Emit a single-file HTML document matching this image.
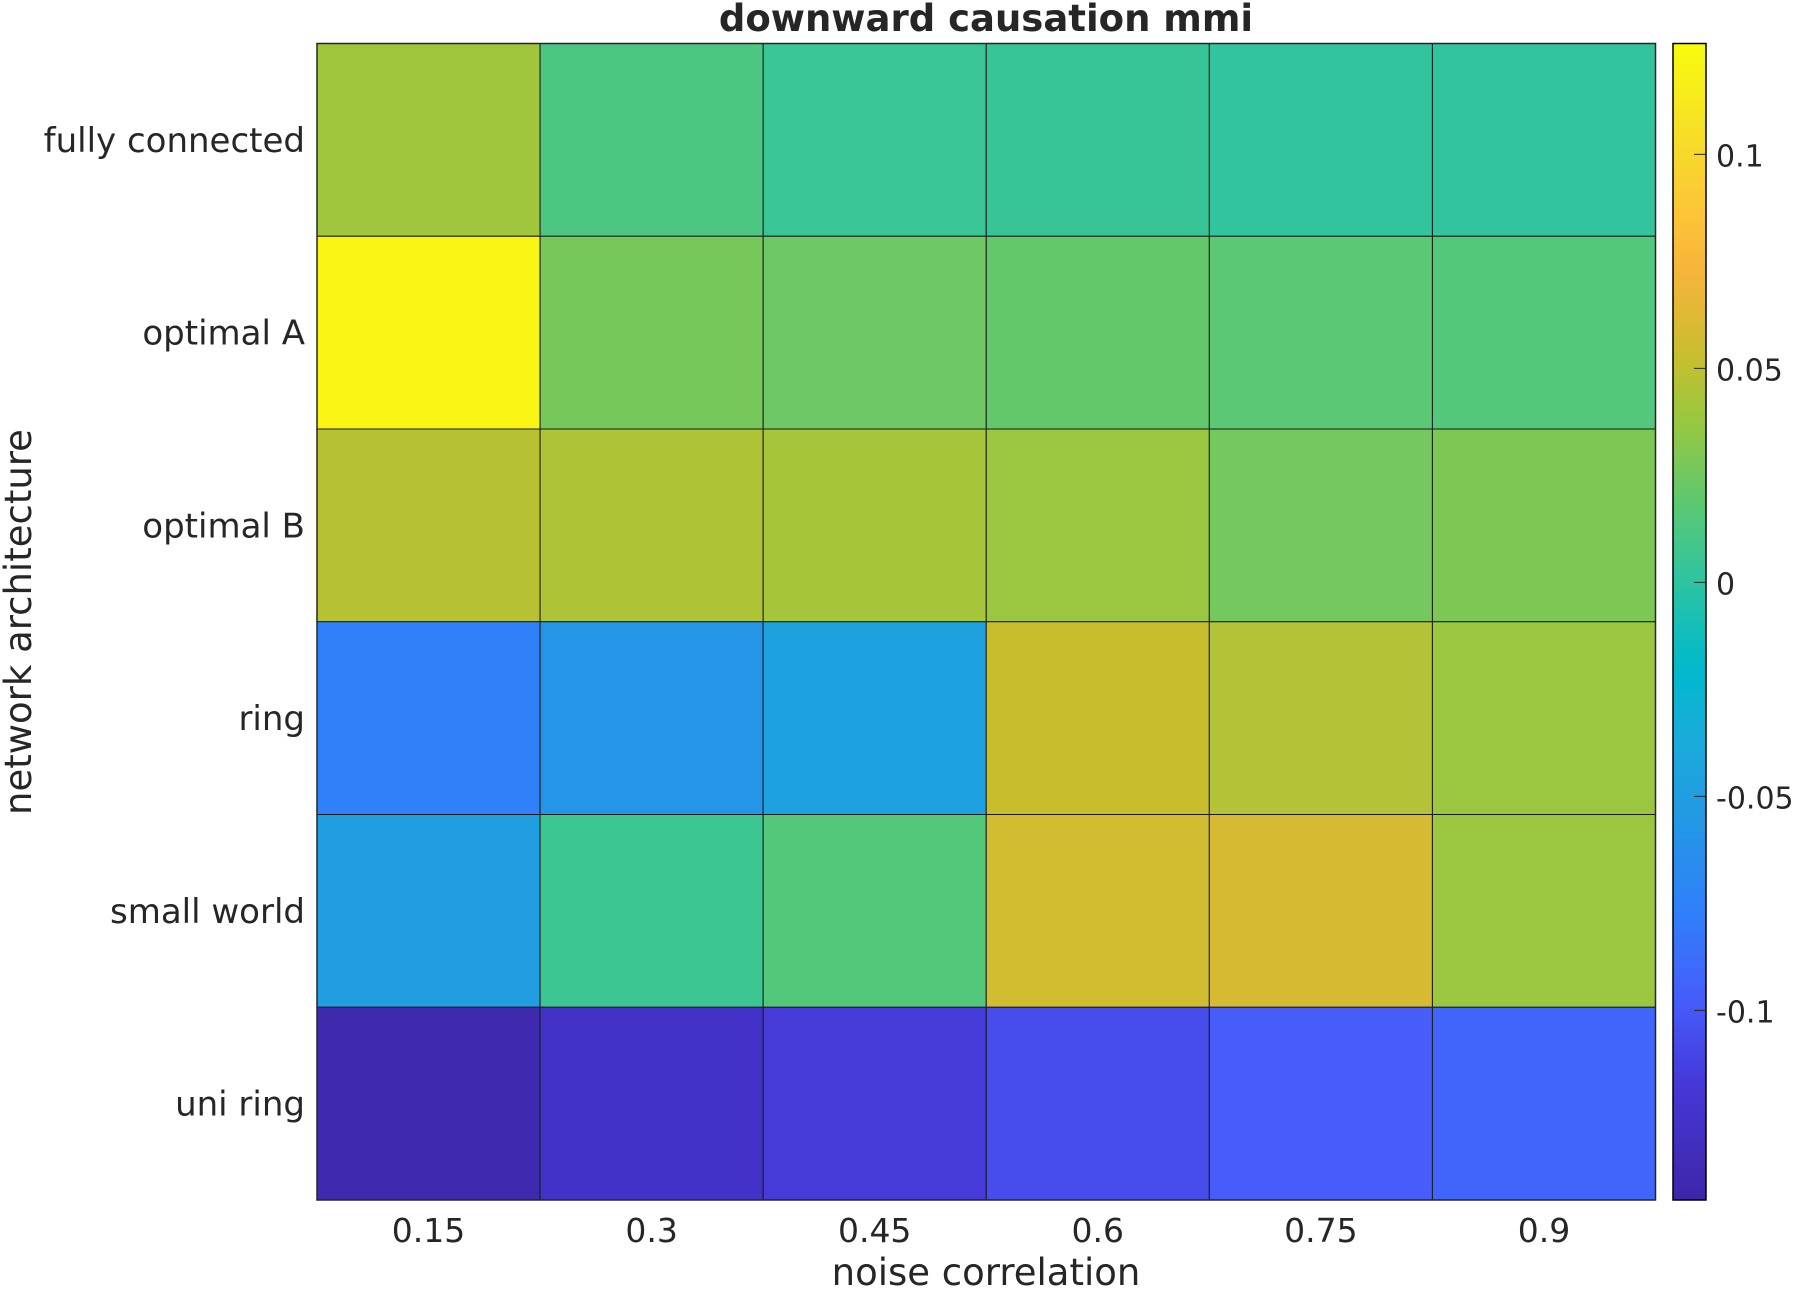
<!DOCTYPE html>
<html><head><meta charset="utf-8">
<style>
html,body{margin:0;padding:0;background:#fff;}
svg{display:block;font-family:"DejaVu Sans","Liberation Sans",sans-serif;}
</style></head>
<body>
<svg id="chart" width="1794" height="1291" viewBox="0 0 1794 1291" xmlns="http://www.w3.org/2000/svg">
<text x="986" y="31" font-size="37" font-weight="bold" text-anchor="middle" fill="#262626">downward causation mmi</text>
<g id="cells"></g>
<g id="ylabels"></g>
<g id="xlabels"></g>
<rect x="317" y="43.5" width="1338.5" height="1156.5" fill="none" stroke="#262626" stroke-width="1.5"/>
<text x="986" y="1285" font-size="37" text-anchor="middle" fill="#262626">noise correlation</text>
<text transform="translate(31,622) rotate(-90)" font-size="37" text-anchor="middle" fill="#262626">network architecture</text>
<defs><linearGradient id="cbgrad" x1="0" y1="1" x2="0" y2="0"></linearGradient></defs>
<rect x="1673" y="43.5" width="33" height="1156.5" fill="url(#cbgrad)" stroke="#000" stroke-width="1.5"/>
<g id="cbticks"></g>
</svg>
<script>
const xCategories = ["0.15","0.3","0.45","0.6","0.75","0.9"];
const yCategories = ["fully connected","optimal A","optimal B","ring","small world","uni ring"];
const rowFully = [0.040,0.012,0.005,0.004,0.002,0.002];
const rowOptA  = [0.121,0.027,0.024,0.021,0.018,0.015];
const rowOptB  = [0.047,0.045,0.042,0.038,0.026,0.029];
const rowRing  = [-0.077,-0.058,-0.046,0.053,0.046,0.038];
const rowSmall = [-0.049,0.006,0.015,0.057,0.059,0.038];
const rowUni   = [-0.140,-0.126,-0.116,-0.106,-0.098,-0.093];
const cbTicks = [-0.1,-0.05,0,0.05,0.1];
const cbTickLabels = ["-0.1","-0.05","0","0.05","0.1"];
const cMin = -0.1443, cMax = 0.1259;

const NS="http://www.w3.org/2000/svg";
const rows=[rowFully,rowOptA,rowOptB,rowRing,rowSmall,rowUni];
const PL=317, PR=1655.5, PT=43.5, PB=1200;
const cw=(PR-PL)/xCategories.length, ch=(PB-PT)/yCategories.length;
function xPos(i){return PL+i*cw;}
function yPos(j){return PT+j*ch;}
const CBT=43.5, CBB=1200;
function cbY(v){return CBB-(v-cMin)/(cMax-cMin)*(CBB-CBT);}
const stops=[[0,62,38,168],[0.10,70,55,215],[0.17,70,92,250],[0.25,48,128,250],[0.33,35,152,228],[0.40,25,172,218],[0.46,0,185,205],[0.53,42,196,165],[0.60,90,200,115],[0.67,150,200,65],[0.73,200,190,45],[0.80,245,180,60],[0.85,254,195,55],[0.92,245,222,40],[1,249,251,14]];
function cmap(v){
  let t=(v-cMin)/(cMax-cMin); t=Math.max(0,Math.min(1,t));
  for(let k=1;k<stops.length;k++){
    if(t<=stops[k][0]){const a=stops[k-1],b=stops[k];const f=(t-a[0])/(b[0]-a[0]);
      return `rgb(${Math.round(a[1]+f*(b[1]-a[1]))},${Math.round(a[2]+f*(b[2]-a[2]))},${Math.round(a[3]+f*(b[3]-a[3]))})`;}
  }
  return "rgb(249,251,14)";
}
const cells=document.getElementById('cells');
rows.forEach((r,j)=>r.forEach((v,i)=>{
  const el=document.createElementNS(NS,'rect');
  
  
  el.setAttribute('x',xPos(i));el.setAttribute('y',yPos(j));
  el.setAttribute('width',cw);el.setAttribute('height',ch);
  el.setAttribute('fill',cmap(v));el.setAttribute('stroke','#1a1a1a');el.setAttribute('stroke-width','1');
  cells.appendChild(el);
}));
const yl=document.getElementById('ylabels');
yCategories.forEach((c,j)=>{
  const t=document.createElementNS(NS,'text');
  
  
  t.setAttribute('x',305);t.setAttribute('y',yPos(j)+ch/2+12);
  t.setAttribute('font-size','34');t.setAttribute('text-anchor','end');t.setAttribute('fill','#262626');
  t.textContent=c;yl.appendChild(t);
});
const xl=document.getElementById('xlabels');
xCategories.forEach((c,i)=>{
  const t=document.createElementNS(NS,'text');
  
  
  t.setAttribute('x',xPos(i)+cw/2);t.setAttribute('y',1242);
  t.setAttribute('font-size','33');t.setAttribute('text-anchor','middle');t.setAttribute('fill','#262626');
  t.textContent=c;xl.appendChild(t);
});
const g=document.getElementById('cbgrad');
for(let k=0;k<=40;k++){
  const v=cMin+(cMax-cMin)*k/40;
  const s=document.createElementNS(NS,'stop');
  s.setAttribute('offset',(k/40));s.setAttribute('stop-color',cmap(v));g.appendChild(s);
}
const cbt=document.getElementById('cbticks');
cbTicks.forEach((v,k)=>{
  const y=cbY(v);
  const l=document.createElementNS(NS,'line');
  
  
  l.setAttribute('x1',1694);l.setAttribute('x2',1706);l.setAttribute('y1',y);l.setAttribute('y2',y);
  l.setAttribute('stroke','#262626');l.setAttribute('stroke-width','1');cbt.appendChild(l);
  const t=document.createElementNS(NS,'text');
  
  
  t.setAttribute('x',1716);t.setAttribute('y',y+12);
  t.setAttribute('font-size','30');t.setAttribute('fill','#262626');
  t.textContent=cbTickLabels[k];cbt.appendChild(t);
});
</script>
</body></html>
